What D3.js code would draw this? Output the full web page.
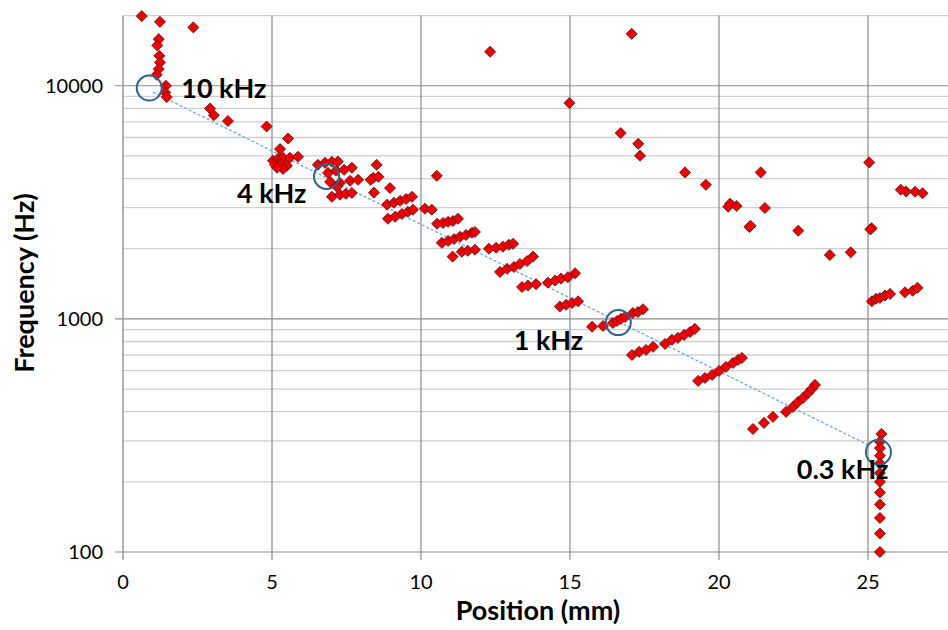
<!DOCTYPE html>
<html>
<head>
<meta charset="utf-8">
<script src="https://cdn.jsdelivr.net/npm/d3@7"></script>
<style>
  body { margin: 0; background: #fff; }
  text { font-family: Lato, "Open Sans", sans-serif; fill: #000; }
</style>
</head>
<body>
<script>
// measured points: [position mm, frequency Hz]
var points = [
  [0.63,19900],[1.24,18800],[2.36,17800],[1.20,15850],[1.15,14900],[1.22,13450],[1.24,12600],[1.20,11800],
  [1.13,11150],[1.44,10000],[1.42,9360],[1.47,8940],[2.92,7990],[3.05,7480],[3.52,7060],[4.82,6690],
  [5.54,5940],[5.27,5350],
  [5.03,4770],[5.20,4860],[5.37,4910],[5.60,4910],[5.87,4960],[5.10,4580],[5.30,4620],[5.50,4540],
  [5.37,4400],[5.17,4450],
  [6.54,4580],[6.78,4670],[7.01,4720],[7.21,4730],[6.88,4230],[7.15,4320],[7.42,4360],[7.68,4450],
  [6.95,3870],[7.28,3830],[7.62,3910],[7.89,3950],[7.01,3340],[7.28,3410],[7.48,3440],[7.68,3470],[7.18,3690],
  [8.51,4580],[8.40,4030],[8.57,4070],[8.31,3950],[8.42,3480],[8.96,3640],
  [8.86,3090],[9.09,3150],[9.30,3210],[9.50,3270],[9.70,3340],[8.89,2690],[9.13,2740],[9.36,2820],
  [9.56,2880],[9.73,2940],[10.13,2970],[10.36,2940],[10.53,4110],
  [10.54,2560],[10.74,2580],[10.91,2610],[11.07,2630],[11.24,2690],
  [10.70,2120],[10.91,2160],[11.11,2200],[11.31,2250],[11.51,2290],[11.71,2340],[11.81,2360],
  [11.06,1850],[11.37,1940],[11.57,1960],[11.81,1980],
  [12.28,2000],[12.52,2020],[12.75,2040],[12.95,2080],[13.09,2100],
  [12.65,1590],[12.89,1640],[13.12,1670],[13.32,1720],[13.56,1770],[13.76,1850],
  [13.39,1370],[13.59,1390],[13.86,1410],
  [14.26,1430],[14.50,1460],[14.70,1490],[14.93,1510],[15.17,1570],
  [14.66,1130],[14.87,1150],[15.07,1170],[15.27,1190],
  [15.74,925],[16.11,933],[16.44,961],[16.58,980],[16.71,1000],[16.85,1020],[17.11,1060],[17.28,1070],[17.45,1100],
  [17.08,700],[17.32,722],[17.55,736],[17.79,759],
  [18.19,781],[18.42,813],[18.62,829],[18.83,854],[19.03,879],[19.19,906],
  [19.30,542],[19.53,558],[19.77,575],[20.00,598],[20.23,622],[20.47,647],[20.64,667],[20.77,680],
  [21.14,337],[21.51,358],[21.81,380],[22.25,399],[22.48,419],[22.65,440],[22.82,458],[22.99,481],[23.12,501],[23.22,521],
  [25.45,321],[25.40,297],[25.40,279],[25.40,259],[25.40,240],[25.40,218],[25.40,200],[25.40,180],
  [25.40,160],[25.40,140],[25.40,120],[25.40,100],
  [12.32,14000],[17.07,16700],[14.98,8430],[16.70,6270],[17.29,5640],[17.35,5010],
  [18.86,4250],[19.56,3760],[20.31,3030],[20.37,3120],[20.59,3050],[21.40,4250],[21.54,2990],[25.04,4690],
  [26.10,3580],[26.28,3520],[26.58,3510],[26.83,3460],
  [21.02,2480],[21.06,2510],[22.66,2390],[23.72,1880],[24.42,1930],[25.12,2450],[25.08,2420],
  [25.13,1190],[25.27,1220],[25.40,1230],[25.57,1260],[25.74,1280],[26.24,1300],[26.50,1320],[26.66,1360]
];

// characteristic frequency markers
var markerPos = [0.88, 6.83, 16.62, 25.35];
var markerFreq = [9780, 4085, 964, 268];
var markerLabels = ["10 kHz", "4 kHz", "1 kHz", "0.3 kHz"];

// dashed fit line end points
var fitPos = [1.0, 25.0];
var fitFreq = [9400, 288];

var xTicks = [0, 5, 10, 15, 20, 25];
var yTicks = [100, 1000, 10000];

var width = 948, height = 630;
var plotLeft = 123, plotTop = 15.6, plotBottom = 552;

var x = d3.scaleLinear().domain([0, 30]).range([plotLeft, plotLeft + 30 * 29.8]);
var y = d3.scaleLog().domain([100, 20000]).range([plotBottom, plotTop]);

var svg = d3.select("body").append("svg")
  .attr("width", width)
  .attr("height", height);

// minor horizontal grid
var minor = [];
[100, 1000, 10000].forEach(function(dec) {
  for (var k = 2; k <= 9; k++) {
    if (dec * k <= 20000) minor.push(dec * k);
  }
});
svg.append("g").selectAll("line")
  .data(minor)
  .enter().append("line")
  .attr("x1", plotLeft).attr("x2", width)
  .attr("y1", function(d) { return y(d); })
  .attr("y2", function(d) { return y(d); })
  .attr("stroke", "#cfcfcf")
  .attr("stroke-width", 1.3);

// major horizontal grid + ticks
svg.append("g").selectAll("line")
  .data(yTicks)
  .enter().append("line")
  .attr("x1", plotLeft - 8).attr("x2", width)
  .attr("y1", function(d) { return y(d); })
  .attr("y2", function(d) { return y(d); })
  .attr("stroke", "#8c8c8c")
  .attr("stroke-width", 1.2);

// vertical grid + ticks
svg.append("g").selectAll("line")
  .data(xTicks)
  .enter().append("line")
  .attr("x1", function(d) { return x(d); })
  .attr("x2", function(d) { return x(d); })
  .attr("y1", plotTop)
  .attr("y2", plotBottom + 8)
  .attr("stroke", function(d) { return d == 0 ? "#a0a0a0" : "#8c8c8c"; })
  .attr("stroke-width", function(d) { return d == 0 ? 1.6 : 1.2; });

// tick labels
svg.append("g").selectAll("text")
  .data(xTicks)
  .enter().append("text")
  .attr("x", function(d) { return x(d); })
  .attr("y", 589)
  .attr("text-anchor", "middle")
  .style("font-size", "20px")
  .text(function(d) { return d; });

svg.append("g").selectAll("text")
  .data(yTicks)
  .enter().append("text")
  .attr("x", 103)
  .attr("y", function(d) { return y(d) + 7; })
  .attr("text-anchor", "end")
  .style("font-size", "20px")
  .text(function(d) { return d; });

// axis titles
svg.append("text")
  .attr("x", 538)
  .attr("y", 620)
  .attr("text-anchor", "middle")
  .style("font-size", "27px")
  .style("font-weight", "bold")
  .text("Position (mm)");

svg.append("text")
  .attr("transform", "translate(34,283) rotate(-90)")
  .attr("text-anchor", "middle")
  .style("font-size", "27px")
  .style("font-weight", "bold")
  .text("Frequency (Hz)");

// dashed fit line
var fit = fitPos.map(function(p, i) { return [p, fitFreq[i]]; });
svg.append("path")
  .datum(fit)
  .attr("d", d3.line()
    .x(function(d) { return x(d[0]); })
    .y(function(d) { return y(d[1]); }))
  .attr("fill", "none")
  .attr("stroke", "#6fa8dc")
  .attr("stroke-width", 1.3)
  .attr("stroke-dasharray", "3,2");

// data diamonds
svg.append("g").selectAll("path")
  .data(points)
  .enter().append("path")
  .attr("transform", function(d) { return "translate(" + x(d[0]) + "," + y(d[1]) + ")"; })
  .attr("d", d3.symbol().type(d3.symbolDiamond2).size(78))
  .attr("fill", "#f00000")
  .attr("stroke", "#5a1010")
  .attr("stroke-width", 0.8);

// marker circles
var markers = markerPos.map(function(p, i) {
  return {pos: p, freq: markerFreq[i], label: markerLabels[i]};
});
svg.append("g").selectAll("circle")
  .data(markers)
  .enter().append("circle")
  .attr("cx", function(d) { return x(d.pos); })
  .attr("cy", function(d) { return y(d.freq); })
  .attr("r", 12.5)
  .attr("fill", "none")
  .attr("stroke", "#2f628f")
  .attr("stroke-width", 2);

// label placement relative to each circle
var labelDx = [32, -20, -35, 10];
var labelDy = [10, 27, 27, 27];
var labelAnchor = ["start", "end", "end", "end"];
svg.append("g").selectAll("text")
  .data(markers)
  .enter().append("text")
  .attr("x", function(d, i) { return x(d.pos) + labelDx[i]; })
  .attr("y", function(d, i) { return y(d.freq) + labelDy[i]; })
  .attr("text-anchor", function(d, i) { return labelAnchor[i]; })
  .style("font-size", "27px")
  .style("font-weight", "bold")
  .text(function(d) { return d.label; });
</script>
</body>
</html>
